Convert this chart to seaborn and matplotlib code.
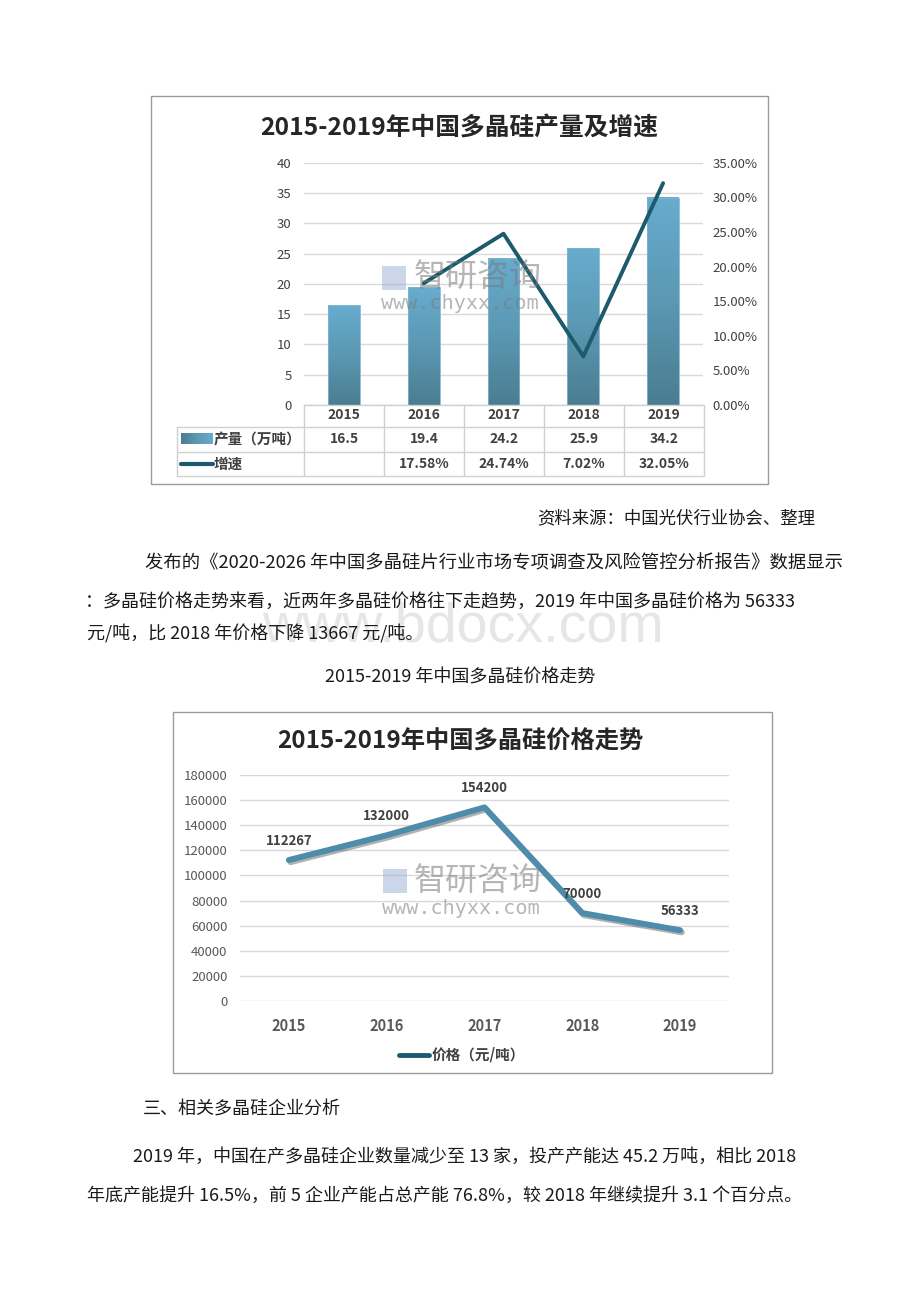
import numpy as np
import matplotlib
matplotlib.use("Agg")
import matplotlib.pyplot as plt
import seaborn as sns
from matplotlib import patheffects as pe
from matplotlib.patches import Rectangle
from matplotlib.lines import Line2D
from matplotlib.colors import LinearSegmentedColormap
from matplotlib.ticker import FuncFormatter

# ---------------- data ----------------
years = ["2015", "2016", "2017", "2018", "2019"]
output_wt = [16.5, 19.4, 24.2, 25.9, 34.2]            # 产量（万吨）
growth_pct = [np.nan, 17.58, 24.74, 7.02, 32.05]      # 增速 %
price = [112267, 132000, 154200, 70000, 56333]         # 价格（元/吨）

title1 = "2015-2019年中国多晶硅产量及增速"
title2 = "2015-2019年中国多晶硅价格走势"
row_label_output = "产量（万吨）"
row_label_growth = "增速"
legend_price = "价格（元/吨）"

source_text = "资料来源：中国光伏行业协会、整理"
para1 = ["发布的《2020-2026 年中国多晶硅片行业市场专项调查及风险管控分析报告》数据显示",
         "：多晶硅价格走势来看，近两年多晶硅价格往下走趋势，2019 年中国多晶硅价格为 56333",
         "元/吨，比 2018 年价格下降 13667 元/吨。"]
caption2 = "2015-2019 年中国多晶硅价格走势"
section3 = "三、相关多晶硅企业分析"
para2 = ["2019 年，中国在产多晶硅企业数量减少至 13 家，投产产能达 45.2 万吨，相比 2018",
         "年底产能提升 16.5%，前 5 企业产能占总产能 76.8%，较 2018 年继续提升 3.1 个百分点。"]

# ---------------- style ----------------
sns.set_theme(style="white")
plt.rcParams['font.family'] = ['Noto Sans CJK SC', 'DejaVu Sans']

W, H = 920, 1302
fig = plt.figure(figsize=(W / 100, H / 100), dpi=100)
fig.patch.set_facecolor("white")


def fx(x):
    return x / W


def fy(y):
    return 1 - y / H


def box(x0, y0, x1, y1):
    return [fx(x0), fy(y1), (x1 - x0) / W, (y1 - y0) / H]


def hline(x0, x1, y, color="#d0d0d0", lw=1.0):
    fig.add_artist(Line2D([fx(x0), fx(x1)], [fy(y), fy(y)], transform=fig.transFigure,
                          color=color, lw=lw))


def vline(x, y0, y1, color="#d0d0d0", lw=1.0):
    fig.add_artist(Line2D([fx(x), fx(x)], [fy(y0), fy(y1)], transform=fig.transFigure,
                          color=color, lw=lw))


text_color = "#1a1a1a"
axis_txt = "#404040"
bar_cmap = LinearSegmentedColormap.from_list("bar", ["#4b7d91", "#5b98b3", "#68acce"])
line_dark = "#1c5a6e"
price_color = "#4d8cab"

# ---------------- page watermark ----------------
fig.text(fx(463), fy(628), "www.bdocx.com", fontsize=40, color="#e6e6e6",
         family="Liberation Sans", ha="center", va="center", zorder=0)

# ---------------- chart 1 ----------------
fig.add_artist(Rectangle((fx(151), fy(484)), (768 - 151) / W, (484 - 96) / H,
                         transform=fig.transFigure, fill=False, edgecolor="#9a9a9a", lw=1))
fig.text(fx(459), fy(128), title1, fontsize=17.8, weight="bold", color="#262626",
         ha="center", va="center")

ax1 = fig.add_axes(box(304, 162.7, 703, 405))
sns.barplot(x=years, y=output_wt, ax=ax1, color="#5b98b3", width=0.4, saturation=1)
grad = np.linspace(0, 1, 256).reshape(-1, 1)
for p in list(ax1.patches):
    bb = p.get_bbox()
    ax1.imshow(grad, extent=[bb.x0, bb.x1, bb.y0, bb.y1], origin="lower", aspect="auto",
               cmap=bar_cmap, zorder=2)
    p.set_facecolor("none")
    p.set_edgecolor("#7fb6d0")
    p.set_linewidth(0.6)
    p.set_zorder(3)
ax1.set_aspect("auto")
ax1.set_xlim(-0.5, 4.5)
ax1.set_ylim(0, 40)
ax1.set_yticks(range(0, 41, 5))
ax1.yaxis.grid(True, color="#d9d9d9", lw=1)
ax1.set_axisbelow(True)
for s in ax1.spines.values():
    s.set_visible(False)
ax1.tick_params(axis="x", labelbottom=False, length=0)
ax1.tick_params(axis="y", length=0, pad=9, labelsize=9.5, labelcolor=axis_txt)
ax1.set_xlabel("")
ax1.set_ylabel("")
ax1.patch.set_alpha(0)

ax2 = ax1.twinx()
sns.lineplot(x=np.arange(len(years)), y=np.array(growth_pct) / 100, ax=ax2,
             color=line_dark, lw=2.8)
ax2.set_ylim(0, 0.35)
ax2.set_yticks(np.arange(0, 0.351, 0.05))
ax2.yaxis.set_major_formatter(FuncFormatter(lambda v, _: f"{v * 100:.2f}%"))
ax2.tick_params(axis="y", length=0, pad=7, labelsize=9.5, labelcolor=axis_txt)
ax2.grid(False)
for s in ax2.spines.values():
    s.set_visible(False)
ax2.set_xlim(-0.5, 4.5)
ax2.set_ylabel("")

# data table beneath chart 1
col_edges = [304 + 80 * i for i in range(6)]
hline(304, 703, 405)
for y in (427, 452, 476):
    hline(177, 703, y)
for x in col_edges:
    vline(x, 405, 476)
vline(177, 427, 476)
for i, yr in enumerate(years):
    cx = 304 + 80 * (i + 0.5)
    fig.text(fx(cx), fy(415), yr, fontsize=10, weight="bold", color=axis_txt,
             ha="center", va="center")
    fig.text(fx(cx), fy(439), f"{output_wt[i]}", fontsize=10, weight="bold", color=axis_txt,
             ha="center", va="center")
    if not np.isnan(growth_pct[i]):
        fig.text(fx(cx), fy(464), f"{growth_pct[i]:.2f}%", fontsize=10, weight="bold",
                 color=axis_txt, ha="center", va="center")
key_ax = fig.add_axes(box(181, 433, 213, 444))
key_ax.imshow(grad.T, aspect="auto", cmap=bar_cmap, extent=[0, 1, 0, 1])
key_ax.axis("off")
hline(181, 213, 464, color=line_dark, lw=3)
fig.text(fx(214), fy(439), row_label_output, fontsize=10.5, weight="bold", color=axis_txt,
         ha="left", va="center")
fig.text(fx(214), fy(464), row_label_growth, fontsize=10.5, weight="bold", color=axis_txt,
         ha="left", va="center")

# chart 1 logo watermark
fig.add_artist(Rectangle((fx(382), fy(290)), 24 / W, 24 / H, transform=fig.transFigure,
                         facecolor="#8fa6d0", edgecolor="none", alpha=0.45))
fig.text(fx(478), fy(277), "智研咨询", fontsize=23, color="#7a7a7a", alpha=0.55,
         ha="center", va="center")
fig.text(fx(460), fy(304), "www.chyxx.com", fontsize=14.5, family="DejaVu Sans Mono",
         color="#7a7a7a", alpha=0.55, ha="center", va="center")

# ---------------- text between charts ----------------
fig.text(fx(815), fy(518), source_text, fontsize=12.5, color=text_color, ha="right", va="center")
fig.text(fx(145), fy(563), para1[0], fontsize=13.2, color=text_color, ha="left", va="center")
fig.text(fx(85), fy(602), para1[1], fontsize=13, color=text_color, ha="left", va="center")
fig.text(fx(87), fy(634), para1[2], fontsize=13, color=text_color, ha="left", va="center")
fig.text(fx(460), fy(678), caption2, fontsize=13, color=text_color, ha="center", va="center")

# ---------------- chart 2 ----------------
fig.add_artist(Rectangle((fx(173), fy(1073)), (772 - 173) / W, (1073 - 712) / H,
                         transform=fig.transFigure, fill=False, edgecolor="#9a9a9a", lw=1))
fig.text(fx(460), fy(742), title2, fontsize=17.5, weight="bold", color="#262626",
         ha="center", va="center")

ax3 = fig.add_axes(box(240, 775, 729, 1001))
sns.lineplot(x=np.arange(len(years)), y=price, ax=ax3, color=price_color, lw=4.3,
             path_effects=[pe.SimpleLineShadow(offset=(1.2, -1.5), shadow_color="#555555", alpha=0.45),
                           pe.Normal()])
ax3.set_xlim(-0.5, 4.5)
ax3.set_ylim(0, 180000)
ax3.set_yticks(range(0, 180001, 20000))
ax3.set_xticks(np.arange(len(years)))
ax3.set_xticklabels(years)
ax3.yaxis.grid(True, color="#d9d9d9", lw=1)
ax3.set_axisbelow(True)
for s in ax3.spines.values():
    s.set_visible(False)
ax3.tick_params(axis="y", length=0, pad=9, labelsize=9.5, labelcolor="#595959")
ax3.tick_params(axis="x", length=0, pad=12, labelsize=10.5, labelcolor="#595959")
for lab in ax3.get_xticklabels():
    lab.set_fontweight("bold")
ax3.set_xlabel("")
ax3.set_ylabel("")
ax3.patch.set_alpha(0)
for i, v in enumerate(price):
    ax3.annotate(f"{v}", (i, v), xytext=(0, 14), textcoords="offset points", ha="center",
                 va="center", fontsize=9.5, weight="bold", color="#404040")
ax3.legend(handles=[Line2D([], [], color=line_dark, lw=3.5)], labels=[legend_price],
           loc="center", bbox_to_anchor=(fx(462), fy(1055)), bbox_transform=fig.transFigure,
           frameon=False, handlelength=2.1, handletextpad=0.2,
           prop=dict(weight="bold", size=10.5))
for t in ax3.get_legend().get_texts():
    t.set_color("#404040")

fig.add_artist(Rectangle((fx(383), fy(893)), 24 / W, 24 / H, transform=fig.transFigure,
                         facecolor="#8fa6d0", edgecolor="none", alpha=0.45))
fig.text(fx(478), fy(881), "智研咨询", fontsize=23, color="#7a7a7a", alpha=0.55,
         ha="center", va="center")
fig.text(fx(461), fy(908), "www.chyxx.com", fontsize=14.5, family="DejaVu Sans Mono",
         color="#7a7a7a", alpha=0.55, ha="center", va="center")

# ---------------- text below ----------------
fig.text(fx(143), fy(1110), section3, fontsize=13, color=text_color, ha="left", va="center")
fig.text(fx(133), fy(1157), para2[0], fontsize=13, color=text_color, ha="left", va="center")
fig.text(fx(87), fy(1196), para2[1], fontsize=13, color=text_color, ha="left", va="center")

fig.savefig("out.png", dpi=100, facecolor="white")
